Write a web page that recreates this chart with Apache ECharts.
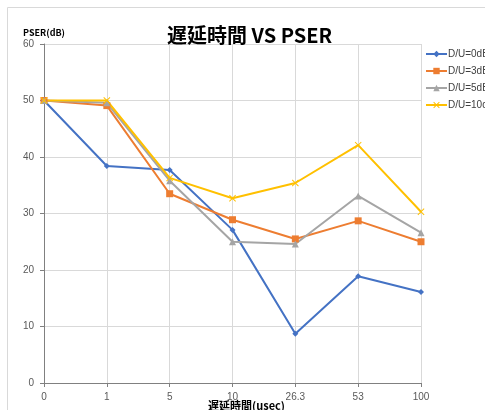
<!DOCTYPE html>
<html>
<head>
<meta charset="utf-8">
<style>
html, body { margin: 0; padding: 0; background: #fff; }
#graphElem { width: 485px; height: 410px; }
</style>
</head>
<body>
<div id="graphElem"></div>
<script src="https://cdn.jsdelivr.net/npm/echarts@6/dist/echarts.min.js"></script>
<script>

let delays = ["0", "1", "5", "10", "26.3", "53", "100"];
let du0 = [50, 38.4, 37.7, 27.1, 8.7, 18.9, 16.1];
let du3 = [50, 49.1, 33.5, 28.9, 25.5, 28.7, 25.0];
let du5 = [50, 49.6, 35.8, 25.0, 24.6, 33.1, 26.6];
let du10 = [50, 50, 36.3, 32.7, 35.4, 42.1, 30.3];

let crossPath = "path://M0,1 L1,0 L5,4 L9,0 L10,1 L6,5 L10,9 L9,10 L5,6 L1,10 L0,9 L4,5 Z";
let font = "'Noto Sans CJK JP', 'Noto Sans', sans-serif";
let latinFont = "'Liberation Sans', 'DejaVu Sans', sans-serif";

let chart = echarts.init(document.getElementById("graphElem"));

function lineSeries(name, data, color, symbol, size) {
	return {
		name: name,
		type: "line",
		data: data,
		symbol: symbol,
		symbolSize: size,
		showAllSymbol: true,
		lineStyle: { color: color, width: 2 },
		itemStyle: { color: color },
		emphasis: { disabled: true }
	};
}

chart.setOption({
	animation: false,
	textStyle: { fontFamily: font },
	title: {
		text: "遅延時間 VS PSER",
		left: 162,
		top: 20,
		textStyle: { fontSize: 20, fontWeight: "bold", color: "#000", fontFamily: font }
	},
	graphic: [{
		type: "rect",
		shape: { x: 7.5, y: 7.5, width: 490, height: 420 },
		style: { fill: null, stroke: "#d9d9d9", lineWidth: 1 },
		silent: true
	}],
	legend: {
		orient: "vertical",
		left: 420,
		top: 44,
		itemWidth: 21,
		itemHeight: 8,
		itemGap: 7,
		textStyle: { fontSize: 10, color: "#404040", fontFamily: latinFont, padding: [0, 0, 0, -4] },
		data: ["D/U=0dB", "D/U=3dB", "D/U=5dB", "D/U=10dB"]
	},
	grid: { left: 44, right: 64, top: 44, bottom: 27, outerBoundsMode: "none", containLabel: false },
	xAxis: {
		type: "category",
		data: delays,
		boundaryGap: false,
		name: "遅延時間(usec)",
		nameLocation: "middle",
		nameGap: 17,
		nameMoveOverlap: false,
		nameTextStyle: { fontSize: 11, fontWeight: "bold", color: "#000", padding: [0, 0, 0, 28] },
		axisLine: { lineStyle: { color: "#808080" } },
		axisTick: { show: true, length: 4, alignWithLabel: true, lineStyle: { color: "#808080" } },
		axisLabel: { fontSize: 10, color: "#595959", margin: 9, fontFamily: latinFont },
		splitLine: { show: true, lineStyle: { color: "#d9d9d9" } }
	},
	yAxis: {
		type: "value",
		min: 0,
		max: 60,
		interval: 10,
		name: "PSER(dB)",
		nameLocation: "end",
		nameGap: 7,
		nameTextStyle: { fontSize: 9, fontWeight: "bold", color: "#000" },
		axisLine: { show: true, lineStyle: { color: "#808080" } },
		axisTick: { show: true, length: 4, lineStyle: { color: "#808080" } },
		axisLabel: { fontSize: 10, color: "#595959", margin: 10, fontFamily: latinFont },
		splitLine: { lineStyle: { color: "#d9d9d9" } }
	},
	series: [
		lineSeries("D/U=0dB", du0, "#4472C4", "diamond", 6),
		lineSeries("D/U=3dB", du3, "#ED7D31", "rect", 7),
		lineSeries("D/U=5dB", du5, "#A5A5A5", "triangle", 7),
		lineSeries("D/U=10dB", du10, "#FFC000", crossPath, 7)
	]
});

</script>
</body>
</html>
